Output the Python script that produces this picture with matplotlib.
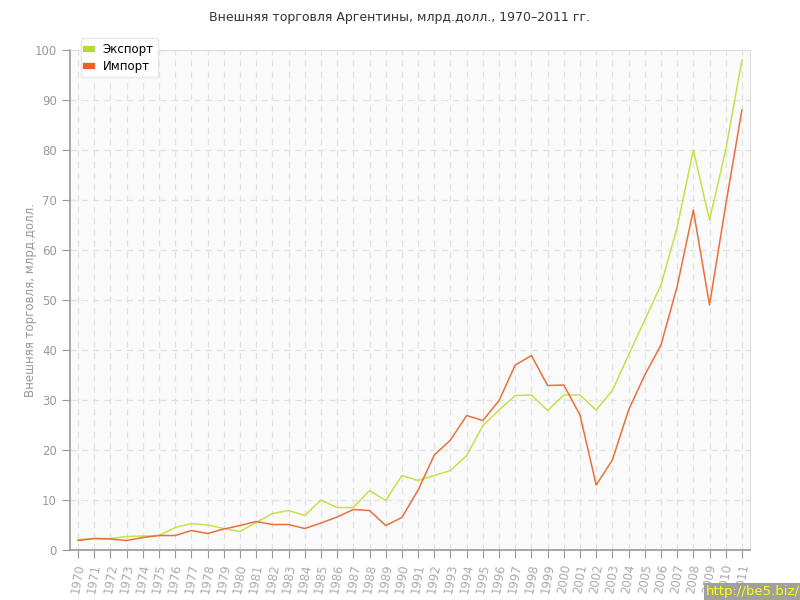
import matplotlib.pyplot as plt

# Данные (млрд. долл.)
years = list(range(1970, 2012))
export = [2.1, 2.3, 2.3, 2.7, 2.8, 2.9, 4.5, 5.3, 5.0, 4.3, 3.7, 5.5, 7.3, 7.9,
          6.9, 10.0, 8.5, 8.5, 11.9, 9.9, 14.9, 13.9, 14.9, 15.9, 18.9, 24.9,
          28.0, 30.9, 31.0, 27.9, 31.0, 31.0, 28.0, 31.9, 39.0, 46.0, 53.0,
          64.5, 80.0, 66.0, 80.0, 98.0]
imports = [1.9, 2.3, 2.2, 1.9, 2.5, 2.9, 2.9, 3.9, 3.3, 4.2, 4.9, 5.7, 5.1, 5.1,
           4.3, 5.4, 6.6, 8.1, 7.9, 4.9, 6.5, 12.0, 19.0, 22.0, 26.9, 25.9,
           29.9, 37.0, 38.9, 32.9, 33.0, 27.0, 13.0, 18.0, 28.0, 35.0, 41.0,
           52.7, 68.0, 49.0, 69.0, 88.0]

grey = '#999999'
export_col = '#c8e04a'
import_col = '#e8703e'

fig = plt.figure(figsize=(8, 6), dpi=100)
ax = fig.add_axes([0.0875, 0.0833, 0.85, 0.8333])
ax.set_facecolor('#fafafa')

ax.plot(years, export, color=export_col, linewidth=1.1, label='Экспорт')
ax.plot(years, imports, color=import_col, linewidth=1.1, label='Импорт')

ax.set_xlim(1969.5, 2011.5)
ax.set_ylim(0, 100)
ax.set_xticks(years)
ax.set_xticklabels([str(y) for y in years], rotation=80, fontsize=8.5, color='#aaaaaa')
ax.set_yticks(range(0, 101, 10))
ax.tick_params(axis='y', labelsize=8.5, labelcolor=grey, color=grey, length=6, direction='out')
ax.tick_params(axis='x', color=grey, length=6, direction='out')
ax.grid(True, color='#e2e2e2', linestyle=(0, (5, 4)), linewidth=0.9)
ax.set_axisbelow(True)

for s in ['top', 'right']:
    ax.spines[s].set_color('#dddddd')
for s in ['left', 'bottom']:
    ax.spines[s].set_color(grey)
    ax.spines[s].set_linewidth(1.2)

ax.set_ylabel('Внешняя торговля, млрд.долл.', color=grey, fontsize=8.5)
ax.yaxis.set_label_coords(-0.049, 0.5)

fig.text(0.5, 0.97, 'Внешняя торговля Аргентины, млрд.долл., 1970–2011 гг.',
         ha='center', va='center', fontsize=9, color='#333333')

# Легенда
leg = ax.legend(loc='upper left', bbox_to_anchor=(0.008, 1.035), fontsize=8.5,
                handlelength=0.5, handleheight=0.5, handletextpad=0.9,
                frameon=True, fancybox=True, shadow=False, borderpad=0.4,
                labelspacing=0.3)
leg.get_frame().set_facecolor('white')
leg.get_frame().set_edgecolor('#e8e8e8')
leg.get_frame().set_alpha(1)
for h, c in zip(leg.legend_handles, ['#b8d935', '#e8602c']):
    h.set_linewidth(4.5)
    h.set_color(c)

fig.text(0.9995, 0.003, 'http://be5.biz/', ha='right', va='bottom', fontsize=9.5,
         color='#ffff00',
         bbox=dict(boxstyle='square,pad=0.15', facecolor='#a0a0a0', edgecolor='none'))

fig.savefig('out.png', dpi=100)
